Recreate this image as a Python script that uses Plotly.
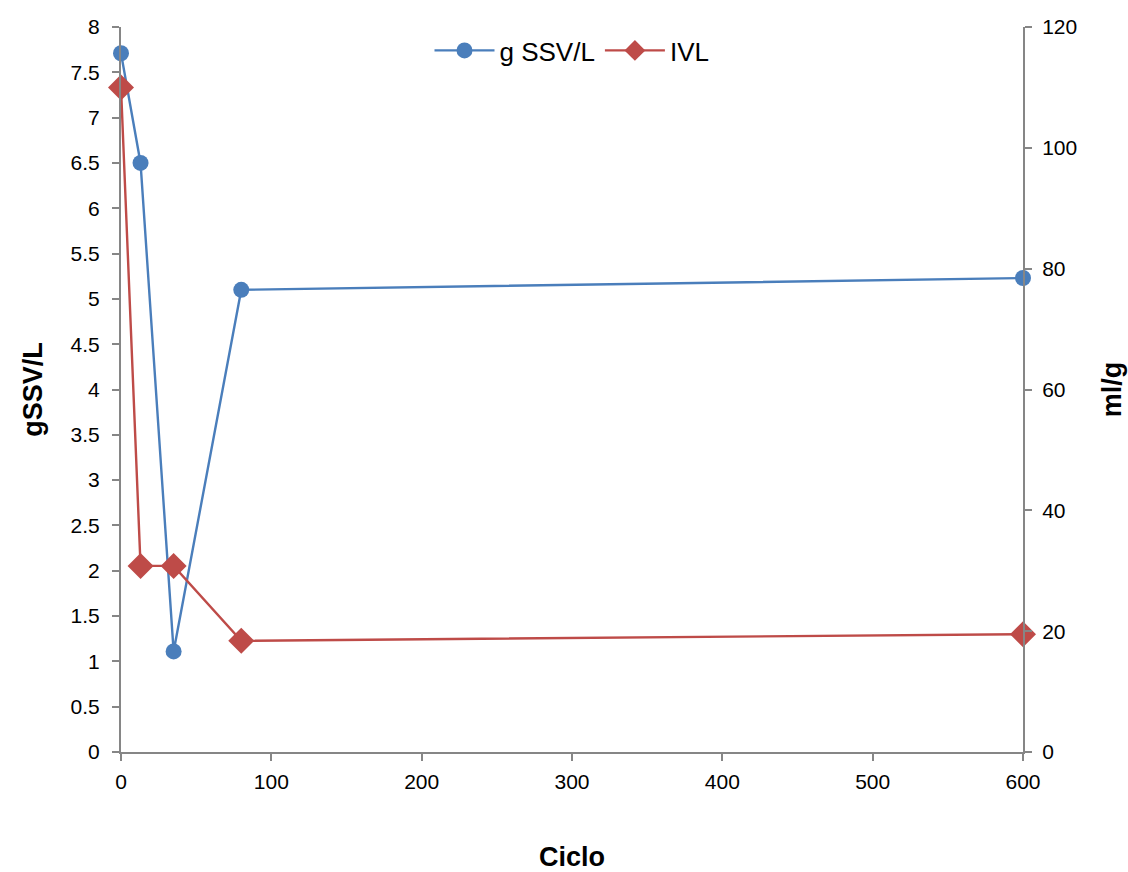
import plotly.graph_objects as go

ciclo_ssv = [0, 13, 35, 80, 600]
g_ssv_l = [7.71, 6.5, 1.11, 5.1, 5.23]
ciclo_ivl = [0, 13, 35, 80, 600]
ivl = [110, 30.8, 30.8, 18.4, 19.5]

blue = "#4A7EBB"
red = "#BE4B48"
axis_col = "#868686"
font = "Liberation Sans, Arial, sans-serif"

fig = go.Figure()
fig.add_trace(go.Scatter(x=ciclo_ssv, y=g_ssv_l, name="g SSV/L", mode="lines+markers",
                         line=dict(color=blue, width=2.4), cliponaxis=False,
                         marker=dict(symbol="circle", size=16, color=blue), yaxis="y"))
fig.add_trace(go.Scatter(x=ciclo_ivl, y=ivl, name="IVL", mode="lines+markers",
                         line=dict(color=red, width=2.4), cliponaxis=False,
                         marker=dict(symbol="diamond", size=20, color=red), yaxis="y2"))

fig.update_layout(
    width=1128, height=872,
    margin=dict(l=121, r=105, t=27, b=120),
    plot_bgcolor="white", paper_bgcolor="white",
    font=dict(family=font, size=21, color="black"),
    showlegend=True,
    legend=dict(orientation="h", x=0.5, xanchor="center", y=1.0, yanchor="top",
                font=dict(size=26), bgcolor="rgba(0,0,0,0)", itemwidth=60),
    xaxis=dict(range=[0, 600], tickvals=[0, 100, 200, 300, 400, 500, 600], automargin=False,
               showgrid=False, zeroline=False, showline=True, linecolor=axis_col, linewidth=2,
               ticks="outside", ticklen=7, tickcolor=axis_col, tickwidth=2, ticklabelstandoff=3,
               title=dict(text="<b>Ciclo</b>", font=dict(size=27), standoff=81)),
    yaxis=dict(range=[0, 8], dtick=0.5, showgrid=False, zeroline=False, showline=True, automargin=False,
               linecolor=axis_col, linewidth=2, ticks="outside", ticklen=7, tickcolor=axis_col, tickwidth=2,
               ticklabelstandoff=8,
               title=dict(text="<b>gSSV/L</b>", font=dict(size=27), standoff=20)),
    yaxis2=dict(range=[0, 120], dtick=20, overlaying="y", side="right", showgrid=False, zeroline=False,
                showline=True, linecolor=axis_col, linewidth=2, ticks="outside", ticklen=7,
                tickcolor=axis_col, tickwidth=2, automargin=False, ticklabelstandoff=6,
                title=dict(text="<b>ml/g</b>", font=dict(size=27), standoff=26)),
)

fig.write_html("out.html")
